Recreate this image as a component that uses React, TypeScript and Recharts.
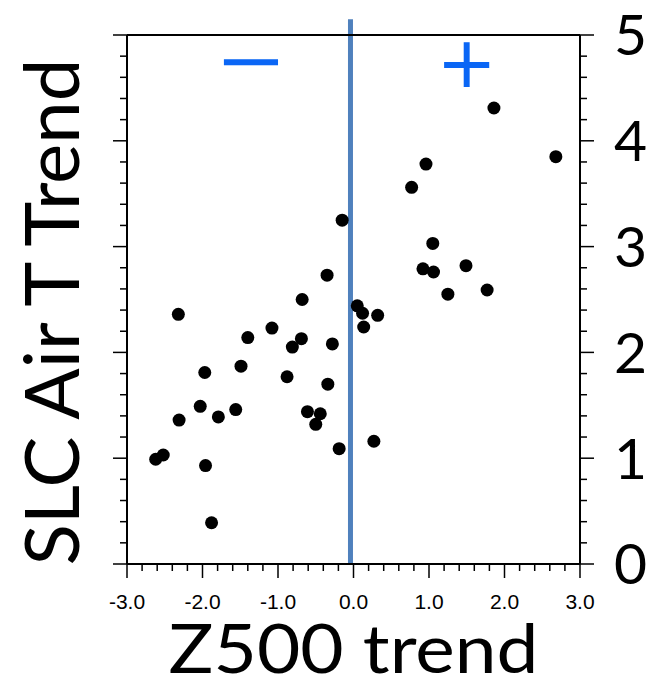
import {
  ScatterChart,
  Scatter,
  XAxis,
  YAxis,
  ReferenceLine,
  ReferenceDot,
  Label,
} from "recharts";

// Z500 trend (x) vs SLC air temperature trend (y)
const z500Trend = [
  -0.15, -0.35, -0.68, -2.32, -1.08, -1.4, -0.69, -0.81, -0.28, -1.49,
  -1.97, -0.88, -0.34, -2.03, -1.79, -1.56, -0.61, -0.44, -2.31, 0.05,
  0.12, 0.32, 0.135, -0.5, -0.19, 0.27, -2.62, -2.52, -1.96, -1.88,
  1.86, 2.68, 0.96, 0.77, 1.05, 0.92, 1.06, 1.49, 1.25, 1.77,
];
const airTTrend = [
  3.25, 2.73, 2.5, 2.36, 2.23, 2.14, 2.13, 2.05, 2.08, 1.87,
  1.81, 1.77, 1.7, 1.49, 1.39, 1.46, 1.44, 1.42, 1.36, 2.44,
  2.37, 2.35, 2.24, 1.32, 1.09, 1.16, 0.99, 1.03, 0.93, 0.39,
  4.31, 3.85, 3.78, 3.56, 3.03, 2.79, 2.76, 2.82, 2.55, 2.59,
];

const xMajorTicks = [-3, -2, -1, 0, 1, 2, 3];
const xTicks = [
  -3, -2.8, -2.6, -2.4, -2.2, -2, -1.8, -1.6, -1.4, -1.2, -1, -0.8, -0.6, -0.4,
  -0.2, 0, 0.2, 0.4, 0.6, 0.8, 1, 1.2, 1.4, 1.6, 1.8, 2, 2.2, 2.4, 2.6, 2.8, 3,
];
const yMajorTicks = [0, 1, 2, 3, 4, 5];
const yTicks = [
  0, 0.2, 0.4, 0.6, 0.8, 1, 1.2, 1.4, 1.6, 1.8, 2, 2.2, 2.4, 2.6, 2.8, 3, 3.2,
  3.4, 3.6, 3.8, 4, 4.2, 4.4, 4.6, 4.8, 5,
];

const zeroLineX = -0.04;
const signX = [-1.36, 1.5];
const signY = [4.78, 4.76];
const signText = ["\u2212", "+"];

const points = z500Trend.map((x, i) => ({ x, y: airTTrend[i] }));

const bigFont = "Lato";
const axisStroke = { stroke: "#000", strokeWidth: 2 };
const isMajor = (v: number, majors: number[]) => majors.some((m) => Math.abs(m - v) < 1e-6);

// one axis per side; tick marks drawn here so majors are longer than minors
const makeTick = (side: "bottom" | "top" | "left" | "right") => (props: any) => {
  const { x, y, payload } = props;
  const v = payload.value;
  const major = isMajor(v, side === "bottom" || side === "top" ? xMajorTicks : yMajorTicks);
  const len = major ? 14 : 7;
  let line;
  if (side === "bottom") line = <line x1={x} x2={x} y1={y} y2={y + len} />;
  else if (side === "top") line = <line x1={x} x2={x} y1={y} y2={y - len} />;
  else if (side === "left") line = <line x1={x} x2={x - len} y1={y} y2={y} />;
  else line = <line x1={x} x2={x + len} y1={y} y2={y} />;
  return (
    <g>
      <g stroke="#000" strokeWidth={1.5}>{line}</g>
      {major && side === "bottom" && (
        <text x={x} y={y + 30} dy="0.71em" textAnchor="middle" fontSize={21} fontFamily="Liberation Sans" fill="#000">
          {v.toFixed(1)}
        </text>
      )}
      {major && side === "right" && (
        <text x={x + 34} y={y} dy="0.358em" textAnchor="start" fontSize={57} fontFamily={bigFont} fill="#000">
          {v}
        </text>
      )}
    </g>
  );
};

const Dot = (props: any) => <circle cx={props.cx} cy={props.cy} r={6.5} fill="#000" />;

const signLabel = (text: string) => (props: any) => {
  const { viewBox } = props;
  const cx = viewBox.cx ?? viewBox.x + (viewBox.width || 0) / 2;
  const cy = viewBox.cy ?? viewBox.y + (viewBox.height || 0) / 2;
  const fs = 72;
  const sx = text === "+" ? 1 : 1.2;
  return (
    <text
      x={cx}
      y={cy + fs * 0.37}
      textAnchor="middle"
      fontFamily="DejaVu Sans"
      fontSize={fs}
      fill="#0a66f5"
      transform={`translate(${cx} 0) scale(${sx} 1) translate(${-cx} 0)`}
    >
      {text}
    </text>
  );
};

export default function App() {
  return (
    <div style={{ position: "absolute", left: 0, top: 0 }}>
      <ScatterChart
        width={661}
        height={689}
        margin={{ top: 34, right: 80, bottom: 124, left: 126 }}
        style={{ background: "#fff" }}
      >
        <XAxis
          xAxisId="b"
          dataKey="x"
          type="number"
          domain={[-3, 3]}
          allowDataOverflow
          ticks={xTicks}
          interval={0}
          height={1}
          tickSize={0}
          tickMargin={0}
          tickLine={false}
          tick={makeTick("bottom")}
          axisLine={axisStroke}
        >
          <Label
            content={(p: any) => (
              <text
                x={p.viewBox.x + p.viewBox.width / 2}
                y={p.viewBox.y + 109}
                textAnchor="middle"
                fontFamily={bigFont}
                fontSize={67}
                textLength={370}
                lengthAdjust="spacingAndGlyphs"
                fill="#000"
              >
                Z500 trend
              </text>
            )}
          />
        </XAxis>
        <XAxis
          xAxisId="t"
          orientation="top"
          type="number"
          domain={[-3, 3]}
          allowDataOverflow
          ticks={xTicks}
          interval={0}
          height={1}
          tickSize={0}
          tickMargin={0}
          tickLine={false}
          tick={makeTick("top")}
          axisLine={axisStroke}
        />
        <YAxis
          yAxisId="l"
          dataKey="y"
          type="number"
          domain={[0, 5]}
          allowDataOverflow
          ticks={yTicks}
          interval={0}
          width={1}
          tickSize={0}
          tickMargin={0}
          tickLine={false}
          tick={makeTick("left")}
          axisLine={axisStroke}
        >
          <Label
            content={(p: any) => {
              const x = p.viewBox.x - 47;
              const y = p.viewBox.y + 277;
              return (
                <text
                  x={x}
                  y={y}
                  transform={`rotate(-90 ${x} ${y})`}
                  textAnchor="middle"
                  fontFamily={bigFont}
                  fontSize={75}
                  textLength={507}
                  lengthAdjust="spacingAndGlyphs"
                  fill="#000"
                >
                  SLC Air T Trend
                </text>
              );
            }}
          />
        </YAxis>
        <YAxis
          yAxisId="r"
          orientation="right"
          type="number"
          domain={[0, 5]}
          allowDataOverflow
          ticks={yTicks}
          interval={0}
          width={1}
          tickSize={0}
          tickMargin={0}
          tickLine={false}
          tick={makeTick("right")}
          axisLine={axisStroke}
        />

        <ReferenceLine
          xAxisId="b"
          yAxisId="l"
          ifOverflow="visible"
          segment={[
            { x: zeroLineX, y: 0 },
            { x: zeroLineX, y: 5.15 },
          ]}
          stroke="#4f81bd"
          strokeWidth={5}
        />

        {signText.map((t, i) => (
          <ReferenceDot
            key={t}
            xAxisId="b"
            yAxisId="l"
            x={signX[i]}
            y={signY[i]}
            r={0}
            fill="none"
            stroke="none"
            label={signLabel(t)}
          />
        ))}

        <Scatter
          data={points}
          xAxisId="b"
          yAxisId="l"
          shape={Dot}
          isAnimationActive={false}
        />
      </ScatterChart>
    </div>
  );
}
